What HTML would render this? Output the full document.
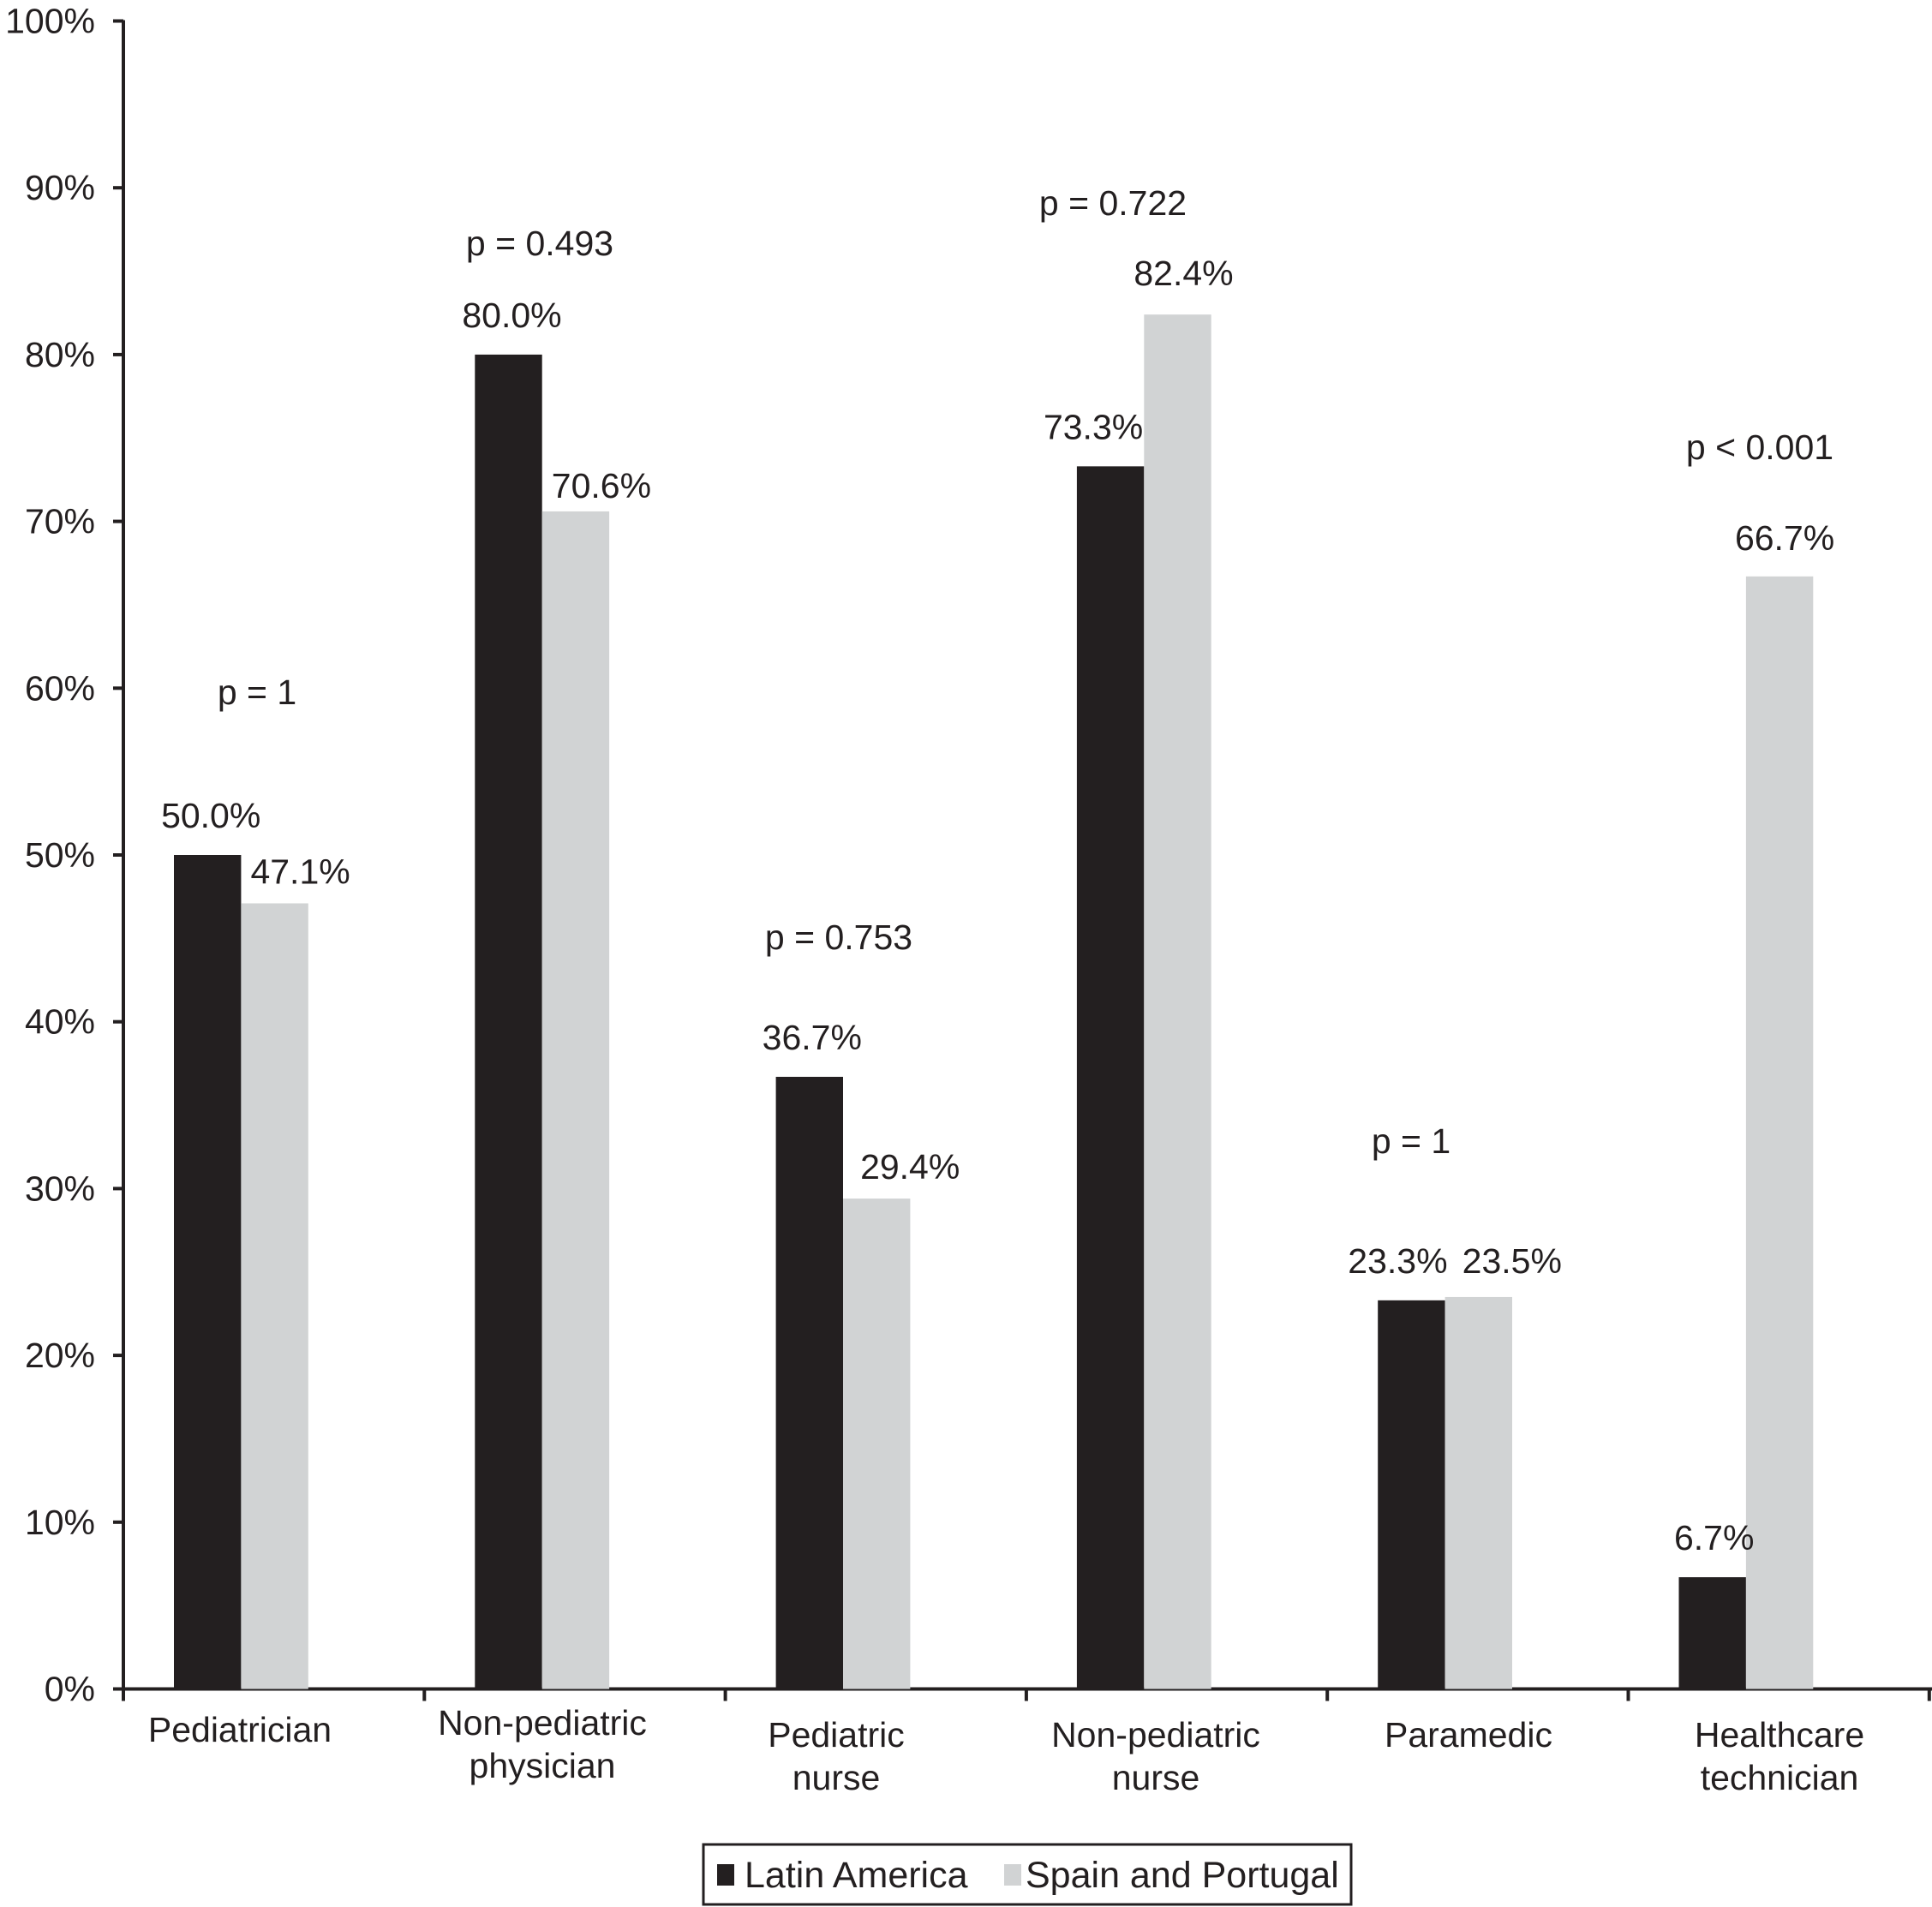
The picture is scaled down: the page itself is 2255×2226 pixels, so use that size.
<!DOCTYPE html>
<html><head><meta charset="utf-8"><style>
html,body{margin:0;padding:0;background:#fff;}
svg{display:block;font-family:"Liberation Sans",Arial,sans-serif;}
</style></head><body>
<svg id="chart" width="2255" height="2226" viewBox="0 0 2255 2226" xmlns="http://www.w3.org/2000/svg">
<g id="axes"></g>
<g id="bars"></g>
<g id="labels"></g>
<g>
  <rect x="821" y="2153" width="756" height="70" fill="#fff" stroke="#231f20" stroke-width="3"/>
  <rect x="837" y="2176" width="20" height="25" fill="#231f20"/>
  <text x="869" y="2203" font-size="43" fill="#231f20">Latin America</text>
  <rect x="1172" y="2176" width="20" height="25" fill="#d1d3d4"/>
  <text x="1197" y="2203" font-size="43" fill="#231f20">Spain and Portugal</text>
</g>
</svg>
<script>
const categories = [["Pediatrician"],["Non-pediatric","physician"],["Pediatric","nurse"],["Non-pediatric","nurse"],["Paramedic"],["Healthcare","technician"]];
const latinAmerica = [50.0, 80.0, 36.7, 73.3, 23.3, 6.7];
const spainPortugal = [47.1, 70.6, 29.4, 82.4, 23.5, 66.7];
const pValues = ["p = 1","p = 0.493","p = 0.753","p = 0.722","p = 1","p < 0.001"];
const yTicks = [0,10,20,30,40,50,60,70,80,90,100];

// layout/styling (not data)
const FS = 41;
const X0 = 144, CW = 351.3, BW = 78.4, BOFF = 59, Y0 = 1971.5, YPER = 19.47;
const darkDx = [4,4,3,-20,-16,2], lightDx = [30,30,39,7,39,6];
const lightDy = [24,17,24,35,29,32];
const pPos = [[300,822],[630,298],[979,1108],[1299,251],[1647,1346],[2054,536]];
const catCenter = [280,633,976,1349,1714,2077];
const catBase = [[2033],[2025,2075],[2039,2089],[2039,2089],[2039],[2039,2089]];

const NS = "http://www.w3.org/2000/svg";
const yS = v => Y0 - v * YPER;
const xCat = i => X0 + i * CW;
function mk(tag, attrs, parent, txt){
  const e = document.createElementNS(NS, tag);
  for (const k in attrs) e.setAttribute(k, attrs[k]);
  if (txt !== undefined) e.textContent = txt;
  parent.appendChild(e); return e;
}
const axes = document.getElementById('axes');
const bars = document.getElementById('bars');
const labels = document.getElementById('labels');

let el = mk('line',{x1:X0,y1:yS(100)-1,x2:X0,y2:Y0+14,stroke:'#231f20','stroke-width':4},axes);


el = mk('line',{x1:X0-2,y1:Y0,x2:2255,y2:Y0,stroke:'#231f20','stroke-width':4},axes);



yTicks.forEach(t => {
  const y = yS(t);
  let tk = mk('line',{x1:X0-12,y1:y,x2:X0,y2:y,stroke:'#231f20','stroke-width':4},axes);
  
  
  let lb = mk('text',{x:111,y:y+14,'font-size':FS,'text-anchor':'end',fill:'#231f20'},axes,t+'%');
  
  
});
for (let i = 1; i <= categories.length; i++) {
  let tk = mk('line',{x1:xCat(i),y1:Y0,x2:xCat(i),y2:Y0+14,stroke:'#231f20','stroke-width':4},axes);
  
  
}

categories.forEach((lines, i) => {
  const xd = xCat(i) + BOFF, xl = xd + BW;
  const yd = yS(latinAmerica[i]), yl = yS(spainPortugal[i]);
  let b = mk('rect',{x:xd,y:yd,width:BW,height:Y0-yd,fill:'#231f20'},bars);
  
  
  b = mk('rect',{x:xl,y:yl,width:BW,height:Y0-yl,fill:'#d1d3d4'},bars);
  
  

  let t = mk('text',{x:xd+BW/2+darkDx[i],y:yd-32,'font-size':FS,'text-anchor':'middle',fill:'#231f20'},labels,latinAmerica[i].toFixed(1)+'%');
  
  
  t = mk('text',{x:xl+BW/2+lightDx[i],y:yl-lightDy[i]+1,'font-size':FS,'text-anchor':'middle',fill:'#231f20'},labels,spainPortugal[i].toFixed(1)+'%');
  
  
  t = mk('text',{x:pPos[i][0],y:pPos[i][1],'font-size':FS,'text-anchor':'middle',fill:'#231f20'},labels,pValues[i]);
  
  
  lines.forEach((ln, j) => {
    const c = mk('text',{x:catCenter[i],y:catBase[i][j],'font-size':FS,'text-anchor':'middle',fill:'#231f20'},labels,ln);
    
    
  });
});
</script>
</body></html>
